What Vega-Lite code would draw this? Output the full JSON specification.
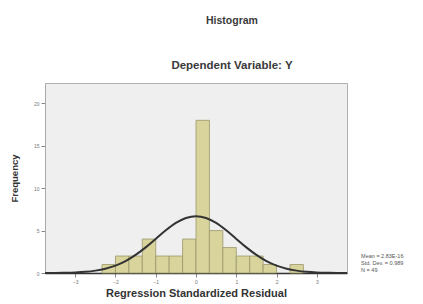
{
  "$schema": "https://vega.github.io/schema/vega-lite/v6.json",
  "width": 302,
  "height": 190,
  "autosize": {"type": "none"},
  "padding": {"left": 45, "top": 83, "right": 76, "bottom": 31},
  "background": "white",
  "config": {
    "font": "Liberation Sans",
    "view": {"fill": "#efefef", "stroke": "#b0b0b0", "strokeWidth": 1}
  },
  "title": {
    "text": "Histogram",
    "subtitle": "Dependent Variable: Y",
    "anchor": "middle",
    "frame": "group",
    "dx": 36,
    "offset": 12,
    "fontSize": 10.5,
    "fontWeight": "bold",
    "color": "#3a3a3a",
    "subtitleFontSize": 11.5,
    "subtitleFontWeight": "bold",
    "subtitleColor": "#3a3a3a",
    "subtitlePadding": 33
  },
  "datasets": {
    "bars": [
      {"bin_start": -2.3333, "bin_end": -2.0, "count": 1},
      {"bin_start": -2.0, "bin_end": -1.6667, "count": 2},
      {"bin_start": -1.6667, "bin_end": -1.3333, "count": 2},
      {"bin_start": -1.3333, "bin_end": -1.0, "count": 4},
      {"bin_start": -1.0, "bin_end": -0.6667, "count": 2},
      {"bin_start": -0.6667, "bin_end": -0.3333, "count": 2},
      {"bin_start": -0.3333, "bin_end": 0.0, "count": 4},
      {"bin_start": 0.0, "bin_end": 0.3333, "count": 18},
      {"bin_start": 0.3333, "bin_end": 0.6667, "count": 5},
      {"bin_start": 0.6667, "bin_end": 1.0, "count": 3},
      {"bin_start": 1.0, "bin_end": 1.3333, "count": 2},
      {"bin_start": 1.3333, "bin_end": 1.6667, "count": 2},
      {"bin_start": 1.6667, "bin_end": 2.0, "count": 1},
      {"bin_start": 2.3333, "bin_end": 2.6667, "count": 1}
    ],
    "curve": [
      {"x": -3.75, "y": 0.005},
      {"x": -3.5, "y": 0.013},
      {"x": -3.25, "y": 0.031},
      {"x": -3.0, "y": 0.068},
      {"x": -2.75, "y": 0.14},
      {"x": -2.5, "y": 0.28},
      {"x": -2.25, "y": 0.51},
      {"x": -2.0, "y": 0.87},
      {"x": -1.75, "y": 1.4},
      {"x": -1.5, "y": 2.13},
      {"x": -1.25, "y": 3.02},
      {"x": -1.0, "y": 4.02},
      {"x": -0.75, "y": 5.03},
      {"x": -0.5, "y": 5.9},
      {"x": -0.25, "y": 6.49},
      {"x": 0.0, "y": 6.7},
      {"x": 0.25, "y": 6.49},
      {"x": 0.5, "y": 5.9},
      {"x": 0.75, "y": 5.03},
      {"x": 1.0, "y": 4.02},
      {"x": 1.25, "y": 3.02},
      {"x": 1.5, "y": 2.13},
      {"x": 1.75, "y": 1.4},
      {"x": 2.0, "y": 0.87},
      {"x": 2.25, "y": 0.51},
      {"x": 2.5, "y": 0.28},
      {"x": 2.75, "y": 0.14},
      {"x": 3.0, "y": 0.068},
      {"x": 3.25, "y": 0.031},
      {"x": 3.5, "y": 0.013},
      {"x": 3.75, "y": 0.005}
    ],
    "stats": [
      {"x": 4.1, "y": 2.0, "label": "Mean = 2.83E-16"},
      {"x": 4.1, "y": 1.2, "label": "Std. Dev. = 0.989"},
      {"x": 4.1, "y": 0.4, "label": "N = 49"}
    ]
  },
  "layer": [
    {
      "data": {"name": "bars"},
      "mark": {"type": "rect", "fill": "#d8d49c", "stroke": "#9a976a", "strokeWidth": 0.8},
      "encoding": {
        "x": {
          "field": "bin_start",
          "type": "quantitative",
          "scale": {"domain": [-3.75, 3.75], "nice": false, "zero": false},
          "axis": {
            "values": [-3, -2, -1, 0, 1, 2, 3],
            "title": "Regression Standardized Residual",
            "titleFontSize": 11,
            "titleFontWeight": "bold",
            "titleColor": "#333333",
            "titlePadding": 3,
            "labelFontSize": 5,
            "labelColor": "#777777",
            "tickColor": "#888888",
            "tickSize": 4,
            "domainColor": "#333333",
            "domainWidth": 1.5,
            "grid": false
          }
        },
        "x2": {"field": "bin_end"},
        "y": {
          "field": "count",
          "type": "quantitative",
          "scale": {"domain": [0, 22.4], "nice": false},
          "axis": {
            "values": [0, 5, 10, 15, 20],
            "title": "Frequency",
            "titleFontSize": 9.5,
            "titleFontWeight": "bold",
            "titleColor": "#333333",
            "titlePadding": 14,
            "labelFontSize": 5,
            "labelColor": "#777777",
            "tickColor": "#888888",
            "tickSize": 4,
            "domainColor": "#aaaaaa",
            "grid": false
          }
        },
        "y2": {"datum": 0}
      }
    },
    {
      "data": {"name": "curve"},
      "mark": {"type": "line", "color": "#333333", "strokeWidth": 2, "interpolate": "monotone"},
      "encoding": {
        "x": {"field": "x", "type": "quantitative"},
        "y": {"field": "y", "type": "quantitative"}
      }
    },
    {
      "data": {"name": "stats"},
      "mark": {"type": "text", "align": "left", "baseline": "middle", "fontSize": 5.5, "color": "#555555", "clip": false},
      "encoding": {
        "x": {"field": "x", "type": "quantitative"},
        "y": {"field": "y", "type": "quantitative"},
        "text": {"field": "label"}
      }
    }
  ]
}
